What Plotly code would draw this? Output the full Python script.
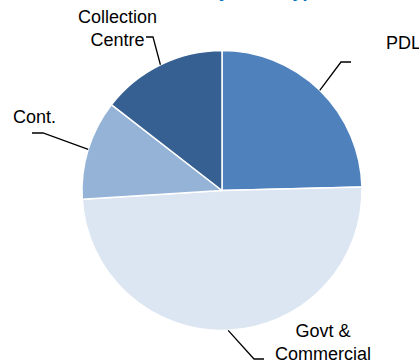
import math
import plotly.graph_objects as go

# Share of each consumer category (%)
categories = ["PDL", "Govt & Commercial", "Cont.", "Collection Centre"]
shares = [24.6, 49.4, 11.5, 14.5]
label_text = ["PDL", "Govt &<br>Commercial", "Cont.", "Collection<br>Centre"]
colors = ["#4F81BD", "#DCE6F2", "#95B3D7", "#376092"]

W, H = 419, 362
CX, CY, R = 222, 190.5, 140  # pie centre and radius in pixels


def px(x):
    return x / W


def py(y):
    return 1 - y / H


fig = go.Figure(
    go.Pie(
        labels=categories,
        values=shares,
        sort=False,
        direction="clockwise",
        rotation=0,
        marker=dict(colors=colors, line=dict(color="white", width=1.5)),
        textinfo="none",
        hoverinfo="label+percent",
        domain=dict(x=[px(CX - R), px(CX + R)], y=[py(CY + R), py(CY - R)]),
        showlegend=False,
    )
)

# leader-line elbows/ends and label anchors (pixels)
elbows = {
    "PDL": [(341, 62), (351, 62)],
    "Govt & Commercial": [(254, 359), (264, 359)],
    "Cont.": [(43, 133), (32, 133)],
    "Collection Centre": [(153, 37), (146, 37)],
}
label_pos = {
    "PDL": (384, 43, "left"),
    "Govt & Commercial": (323, 342, "center"),
    "Cont.": (11, 117, "left"),
    "Collection Centre": (117, 28, "center"),
}

total = sum(shares)
start = 0.0
shapes, annotations = [], []
for cat, val, txt in zip(categories, shares, label_text):
    mid = start + val / total * 360 / 2
    start += val / total * 360
    a = math.radians(mid)
    ex, ey = CX + R * math.sin(a), CY - R * math.cos(a)
    pts = [(ex, ey)] + elbows[cat]
    path = "M " + " L ".join(f"{px(x)},{py(y)}" for x, y in pts)
    shapes.append(dict(type="path", path=path, xref="paper", yref="paper",
                       line=dict(color="black", width=1.3)))
    lx, ly, anchor = label_pos[cat]
    annotations.append(dict(text=txt, x=px(lx), y=py(ly), xref="paper", yref="paper",
                            xanchor=anchor, yanchor="middle", showarrow=False,
                            align="center",
                            font=dict(family="Liberation Sans, Arial", size=18, color="black")))

# chart heading sitting above the visible area
annotations.append(dict(text="<b>Sales Mix by Tariff Type</b>", x=px(222), y=1,
                        xref="paper", yref="paper", xanchor="center", yanchor="bottom",
                        yshift=-3, showarrow=False,
                        font=dict(family="Liberation Sans, Arial", size=18, color="#0070C0")))

fig.update_layout(
    width=W, height=H,
    margin=dict(l=0, r=0, t=0, b=0),
    paper_bgcolor="white", plot_bgcolor="white",
    shapes=shapes, annotations=annotations,
)

fig.write_html("out.html")
